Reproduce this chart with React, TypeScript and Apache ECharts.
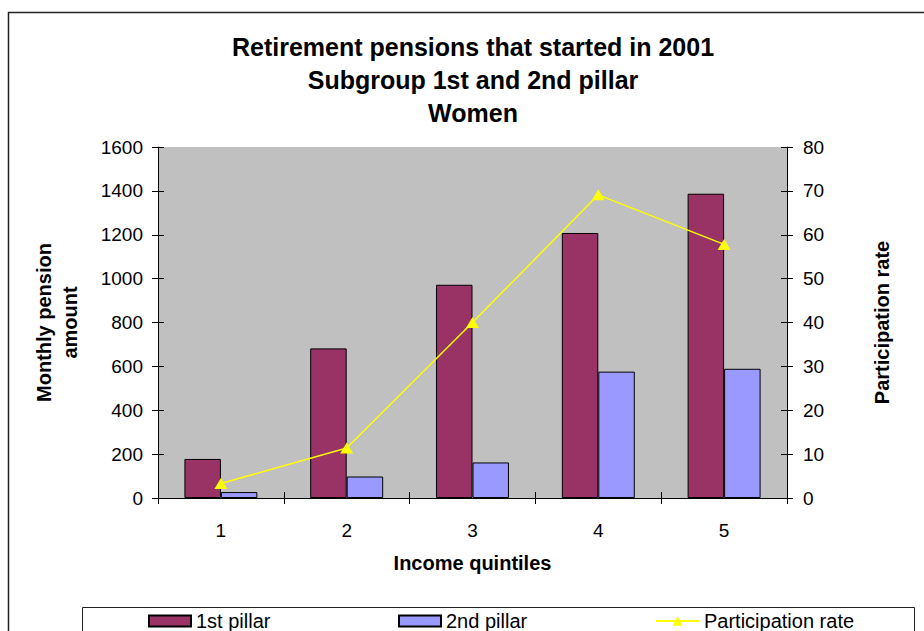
import React, { useEffect, useRef } from "react";
import * as echarts from "echarts";

const categories = ["1", "2", "3", "4", "5"];
const pillar1 = [178, 682, 972, 1208, 1387];
const pillar2 = [27, 98, 162, 576, 589];
const participation = [3.3, 11.4, 40.0, 69.1, 57.8];
const titleLines = ["Retirement pensions that started in 2001", "Subgroup 1st and 2nd pillar", "Women"];
const seriesNames = ["1st pillar", "2nd pillar", "Participation rate"];

const FONT = "'Liberation Sans', Arial, Helvetica, sans-serif";

export default function App() {
  const ref = useRef<HTMLDivElement>(null);
  useEffect(() => {
    if (!ref.current) return;
    const chart = echarts.init(ref.current, null, { renderer: "svg" });
    const tickInside = { show: true, inside: true, length: 6, lineStyle: { color: "#000", width: 1 } };
    const tickOutside = { show: true, inside: false, length: 6, lineStyle: { color: "#000", width: 1 } };
    const plain = (v: number) => String(v);
    const hiddenY = (pos: string, max: number, interval: number) => ({
      type: "value",
      position: pos,
      min: 0,
      max,
      interval,
      axisLine: { show: false },
      axisTick: tickInside,
      axisLabel: { show: false },
      splitLine: { show: false },
    });
    chart.setOption({
      animation: false,
      backgroundColor: "#ffffff",
      textStyle: { fontFamily: FONT },
      title: {
        text: titleLines.join("\n"),
        left: 473,
        top: 30,
        textAlign: "center",
        padding: 0,
        textStyle: { fontFamily: FONT, fontSize: 25, fontWeight: "bold", color: "#000", lineHeight: 33 },
      },
      grid: {
        left: 158,
        right: 137,
        top: 147,
        bottom: 133,
        show: true,
        backgroundColor: "#C0C0C0",
        borderWidth: 0,
      },
      legend: [
        {
          data: [seriesNames[0]],
          left: 148,
          top: 611,
          padding: 0,
          icon: "rect",
          itemWidth: 42,
          itemHeight: 11,
          textStyle: { fontFamily: FONT, fontSize: 20, color: "#000" },
        },
        {
          data: [seriesNames[1]],
          left: 398,
          top: 611,
          padding: 0,
          icon: "rect",
          itemWidth: 42,
          itemHeight: 11,
          textStyle: { fontFamily: FONT, fontSize: 20, color: "#000" },
        },
        {
          data: [seriesNames[2]],
          left: 655,
          top: 611,
          padding: 0,
          itemWidth: 43,
          itemHeight: 12,
          textStyle: { fontFamily: FONT, fontSize: 20, color: "#000" },
        },
      ],
      xAxis: [
        {
          type: "category",
          data: categories,
          position: "bottom",
          name: "Income quintiles",
          nameLocation: "middle",
          nameGap: 55,
          nameTextStyle: { fontFamily: FONT, fontSize: 20, fontWeight: "bold", color: "#000", verticalAlign: "top" },
          axisLine: { show: true, lineStyle: { color: "#000", width: 1 } },
          axisTick: { ...tickOutside, alignWithLabel: false },
          axisLabel: { fontFamily: FONT, fontSize: 19, color: "#000", margin: 23 },
          splitLine: { show: false },
        },
        {
          type: "category",
          data: categories,
          position: "bottom",
          axisLine: { show: false },
          axisTick: tickInside,
          axisLabel: { show: false },
          splitLine: { show: false },
        },
      ],
      yAxis: [
        {
          type: "value",
          position: "left",
          min: 0,
          max: 1600,
          interval: 200,
          name: "Monthly pension\namount",
          nameLocation: "middle",
          nameGap: 101,
          nameRotate: 90,
          nameTextStyle: { fontFamily: FONT, fontSize: 20, fontWeight: "bold", color: "#000", lineHeight: 26, verticalAlign: "middle" },
          axisLine: { show: true, lineStyle: { color: "#000", width: 1 } },
          axisTick: tickOutside,
          axisLabel: { fontFamily: FONT, fontSize: 19, color: "#000", margin: 15, formatter: plain },
          splitLine: { show: false },
        },
        {
          type: "value",
          position: "right",
          min: 0,
          max: 80,
          interval: 10,
          name: "Participation rate",
          nameLocation: "middle",
          nameGap: 95,
          nameRotate: 90,
          nameTextStyle: { fontFamily: FONT, fontSize: 20, fontWeight: "bold", color: "#000", verticalAlign: "middle" },
          axisLine: { show: true, lineStyle: { color: "#000", width: 1 } },
          axisTick: tickOutside,
          axisLabel: { fontFamily: FONT, fontSize: 19, color: "#000", margin: 16, formatter: plain },
          splitLine: { show: false },
        },
        hiddenY("left", 1600, 200),
        hiddenY("right", 80, 10),
      ],
      series: [
        {
          name: seriesNames[0],
          type: "bar",
          data: pillar1,
          xAxisIndex: 0,
          yAxisIndex: 0,
          barGap: "0%",
          barCategoryGap: "42%",
          itemStyle: { color: "#993366", borderColor: "#000", borderWidth: 1 },
        },
        {
          name: seriesNames[1],
          type: "bar",
          data: pillar2,
          xAxisIndex: 0,
          yAxisIndex: 0,
          barGap: "0%",
          barCategoryGap: "42%",
          itemStyle: { color: "#9999FF", borderColor: "#000", borderWidth: 1 },
        },
        {
          name: seriesNames[2],
          type: "line",
          data: participation,
          xAxisIndex: 0,
          yAxisIndex: 1,
          symbol: "triangle",
          symbolSize: [13, 11],
          showSymbol: true,
          lineStyle: { color: "#FFFF00", width: 1.5 },
          itemStyle: { color: "#FFFF00" },
        },
      ],
      graphic: [
        {
          type: "rect",
          silent: true,
          shape: { x: 8.5, y: 12.5, width: 1000, height: 1000 },
          style: { fill: "none", stroke: "#222", lineWidth: 1.5 },
          z: -1,
        },
        {
          type: "rect",
          silent: true,
          shape: { x: 82.5, y: 607.5, width: 832, height: 60 },
          style: { fill: "none", stroke: "#222", lineWidth: 1 },
          z: -1,
        },
      ],
    });
    return () => chart.dispose();
  }, []);
  return <div ref={ref} style={{ position: "fixed", left: 0, top: 0, width: 924, height: 631 }} />;
}
